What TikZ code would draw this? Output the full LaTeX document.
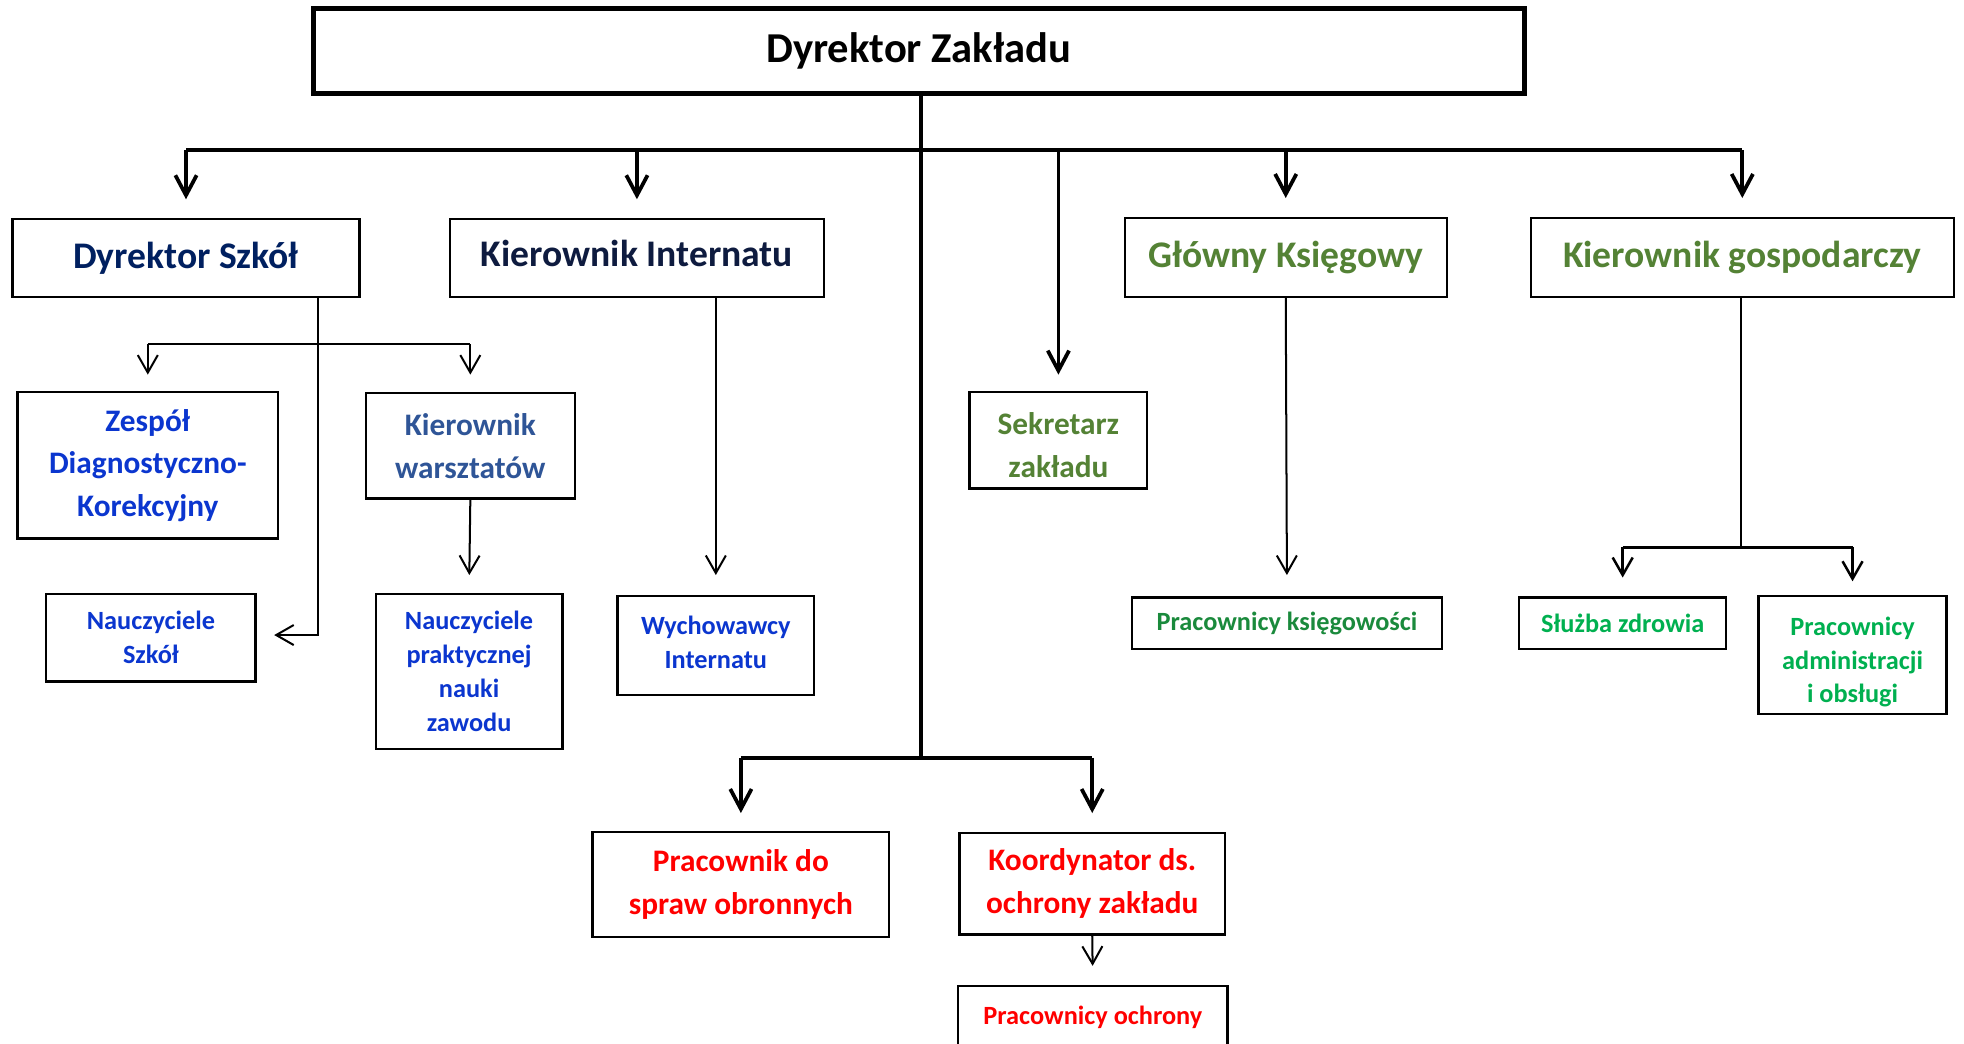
\documentclass[tikz,border=0pt]{standalone}
\usepackage{fontspec}
\setmainfont{Carlito}
\usetikzlibrary{arrows.meta}
\definecolor{cNavy}{HTML}{002060}
\definecolor{cInk}{HTML}{0E1B3F}
\definecolor{cBlue}{HTML}{0B36CF}
\definecolor{cSteel}{HTML}{2F5597}
\definecolor{cOlive}{HTML}{548235}
\definecolor{cGreen}{HTML}{00B050}
\definecolor{cGreenD}{HTML}{1A8A3C}
\definecolor{cRed}{HTML}{FF0000}
\begin{document}
\begin{tikzpicture}[x=0.5pt,y=-0.5pt,
  orgbox/.style={draw, line width=0.9pt, fill=white, align=center, inner sep=0pt},
  fsTop/.style={font=\fontsize{17}{20}\selectfont\bfseries},
  fsBig/.style={font=\fontsize{15}{18}\selectfont\bfseries},
  fsMid/.style={font=\fontsize{12.5}{17}\selectfont\bfseries},
  fsSml/.style={font=\fontsize{10.5}{13.5}\selectfont\bfseries},
  thk/.style={line width=1.5pt},
  thn/.style={line width=0.8pt},
  med/.style={line width=1pt},
  arrT/.style={-{Straight Barb[length=8pt,width=8.5pt]}, line width=1.5pt},
  arrt/.style={-{Straight Barb[length=7pt,width=8pt]}, line width=0.8pt},
  arrm/.style={-{Straight Barb[length=7pt,width=8pt]}, line width=1pt}]
\clip (0,0) rectangle (1568,833);
\fill[white] (0,0) rectangle (1568,833);

% boxes
\node[orgbox, line width=2pt, fsTop, minimum width=483.5pt, minimum height=34pt] (top) at (733.5,41) {Dyrektor Zakładu};
\node[orgbox, fsBig, text=cNavy, minimum width=138.5pt, minimum height=31pt] (ds) at (148.5,206) {Dyrektor Szkół};
\node[orgbox, fsBig, text=cInk, text depth=3.5pt, minimum width=149.5pt, minimum height=31pt] (ki) at (508.5,206) {Kierownik Internatu};
\node[orgbox, fsBig, text=cOlive, minimum width=128.5pt, minimum height=31.5pt] (gk) at (1026.5,205.5) {Główny Księgowy};
\node[orgbox, fsBig, text=cOlive, minimum width=169pt, minimum height=31.5pt] (kg) at (1391,205.5) {Kierownik gospodarczy};

\node[orgbox, fsMid, text=cBlue, minimum width=104pt, minimum height=58.5pt] (zdk) at (118,371.5) {Zespół\\Diagnostyczno-\\Korekcyjny};
\node[orgbox, fsMid, text=cSteel, minimum width=83.5pt, minimum height=42pt] (kw) at (375.5,356) {Kierownik\\warsztatów};
\node[orgbox, fsMid, text=cOlive, minimum width=71pt, minimum height=38.5pt] (sz) at (845,351.5) {\rule{0pt}{12.5pt}Sekretarz\\zakładu};

\node[orgbox, fsSml, text=cBlue, minimum width=83.5pt, minimum height=35pt] (ns) at (120.5,509) {Nauczyciele\\Szkół};
\node[orgbox, fsSml, text=cBlue, minimum width=74.5pt, minimum height=62pt] (npnz) at (374.5,536) {Nauczyciele\\praktycznej\\nauki\\zawodu};
\node[orgbox, fsSml, text=cBlue, text depth=3pt, minimum width=78.5pt, minimum height=39.5pt] (wi) at (571.5,515.5) {Wychowawcy\\Internatu};
\node[orgbox, fsSml, text=cGreenD, minimum width=123.5pt, minimum height=20.5pt] (pk) at (1027.5,497.5) {Pracownicy księgowości};
\node[orgbox, fsSml, text=cGreen, minimum width=82.5pt, minimum height=20.5pt] (szd) at (1295.5,497.5) {Służba zdrowia};
\node[orgbox, fsSml, text=cGreen, minimum width=75pt, minimum height=47pt] (pao) at (1479,523) {\rule{0pt}{13pt}Pracownicy\\administracji\\i obsługi};

\node[orgbox, fsMid, text=cRed, minimum width=118.5pt, minimum height=42pt] (pdso) at (591.5,706) {Pracownik do\\spraw obronnych};
\node[orgbox, fsMid, text=cRed, minimum width=106pt, minimum height=40.5pt] (koz) at (872,705.5) {Koordynator ds.\\ochrony zakładu};
\node[orgbox, fsSml, text=cRed, minimum width=107.5pt, minimum height=25pt] (po) at (872.5,812) {Pracownicy ochrony};

% junction points
\coordinate (bar) at (735,120);
\coordinate (trb) at (735,605);
\coordinate (dsv) at (254,275);
\coordinate (dsb) at (254,507);
\coordinate (kgb) at (1390,437);

% top level
\draw[thk] (top.south -| bar) -- (trb);
\draw[thk] (ds.north |- bar) -- (kg.north |- bar);
\foreach \n in {ds,ki,gk,kg}
  \draw[arrT, shorten >=7.5pt] (\n.north |- bar) -- (\n.north);
\draw[arrT, shorten >=6.5pt] (sz.north |- bar) -- (sz.north);

% bottom branch
\draw[thk] (pdso.north |- trb) -- (koz.north |- trb);
\draw[arrT, shorten >=7pt] (pdso.north |- trb) -- (pdso.north);
\draw[arrT, shorten >=7.5pt] (koz.north |- trb) -- (koz.north);
\draw[arrt, shorten >=7.5pt] (koz.south) -- (po.north);

% Dyrektor Szkół branch
\draw[arrt, shorten >=7pt] (dsv |- ds.south) -- (dsb) -- (dsb -| ns.east);
\draw[thn] (zdk.north |- dsv) -- (kw.north |- dsv);
\draw[arrt, shorten >=6.5pt] (zdk.north |- dsv) -- (zdk.north);
\draw[arrt, shorten >=7pt] (kw.north |- dsv) -- (kw.north);
\draw[arrt, shorten >=7pt] (kw.south) -- (npnz.north);

% Internat, Księgowy
\draw[arrt, shorten >=8pt] (wi.north |- ki.south) -- (wi.north);
\draw[arrt, shorten >=8.5pt] (gk.south) -- (pk.north);

% Kierownik gospodarczy branch
\draw[med] (kg.south -| kgb) -- (kgb);
\draw[med] (szd.north |- kgb) -- (pao.north |- kgb);
\draw[arrm, shorten >=7.5pt] (szd.north |- kgb) -- (szd.north);
\draw[arrm, shorten >=5.5pt] (pao.north |- kgb) -- (pao.north);
\end{tikzpicture}
\end{document}
